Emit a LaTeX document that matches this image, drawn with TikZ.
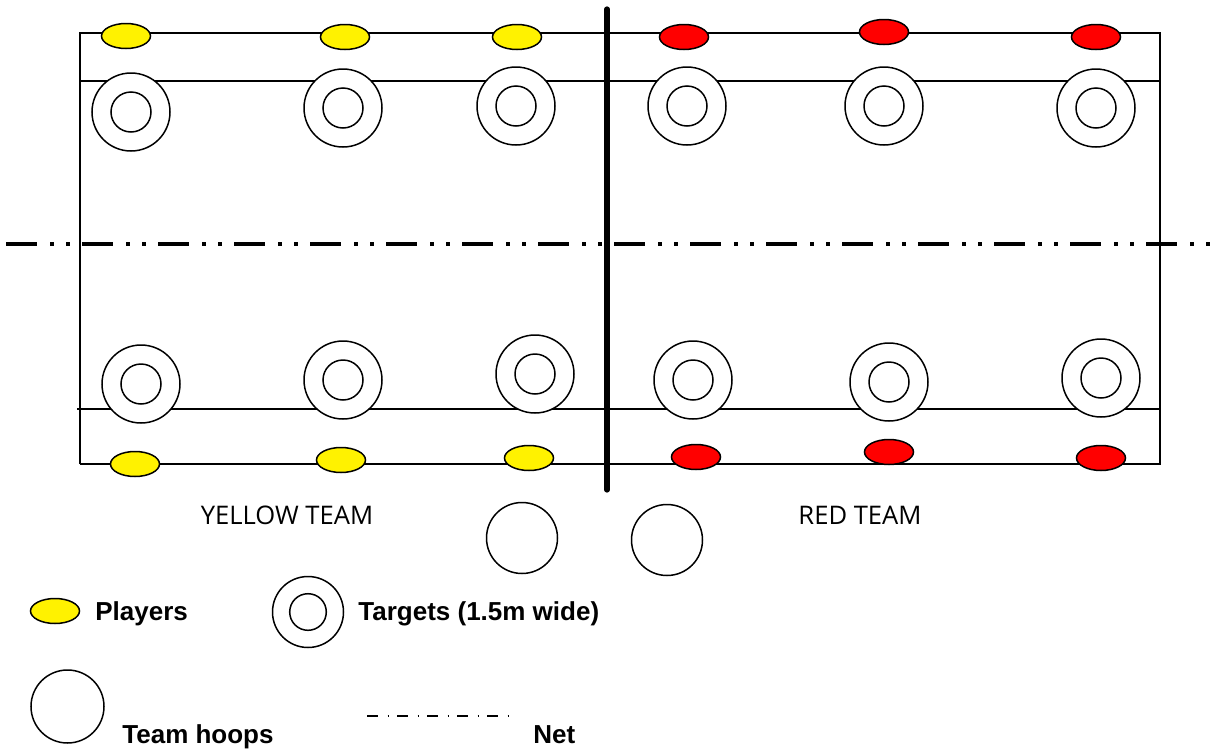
\documentclass[tikz,border=0pt]{standalone}
\usepackage{fontspec}
\setmainfont{Liberation Sans}
\newfontfamily\teamfont{Open Sans}
\usetikzlibrary{shapes.geometric}
\tikzset{
  x=0.5pt, y=-0.5pt,
  thinline/.style={line width=0.75pt, black},
  player/.style={ellipse, draw, line width=0.75pt, minimum width=24.5pt, minimum height=12.5pt, inner sep=0pt},
  yplayer/.style={player, fill=yellow},
  rplayer/.style={player, fill=red},
  outerT/.style={circle, draw, line width=0.75pt, fill=white, minimum size=39pt, inner sep=0pt},
  innerT/.style={circle, draw, line width=0.75pt, minimum size=20pt, inner sep=0pt},
  hoop/.style={circle, draw, line width=0.75pt, fill=white, minimum size=35.5pt, inner sep=0pt},
  teamlabel/.style={font=\teamfont\fontsize{12.8pt}{14pt}\selectfont, inner sep=0pt, anchor=base},
  legendlabel/.style={font=\bfseries\fontsize{13pt}{15pt}\selectfont, anchor=base west, inner sep=0pt},
  netline/.style={line width=2.6pt, line cap=round},
  centreline/.style={line width=2pt, dash pattern=on 15.5pt off 6.5pt on 2pt off 6pt on 2pt off 6pt},
  legendnet/.style={line width=0.6pt, dash pattern=on 5.5pt off 4.75pt on 0.75pt off 4pt}
}
\newcommand\tgt[3]{\node[outerT] (#1) at (#2,#3) {}; \node[innerT] (#1i) at (#1) {};}
\begin{document}
\begin{tikzpicture}
\useasboundingbox (0,0) rectangle (1222,750);
% court lines
\draw[thinline] (80,464) -- (80,33) -- (1160,33) -- (1160,464) -- (80,464);
\draw[thinline] (80,81) -- (1160,81);
\draw[thinline] (77,409) -- (1160,409);
% centre line
\draw[centreline] (6,244) -- (1216,244);
% targets top
\tgt{tA}{131}{112}
\tgt{tB}{343}{108}
\tgt{tC}{516}{106}
\tgt{tD}{687}{106}
\tgt{tE}{884}{106}
\tgt{tF}{1096}{108}
% targets bottom
\tgt{bA}{141}{384}
\tgt{bB}{343}{380}
\tgt{bC}{535}{374}
\tgt{bD}{693}{380}
\tgt{bE}{889}{382}
\tgt{bF}{1101}{378}
% players top
\node[yplayer] (py1) at (126,36) {};
\node[yplayer] (py2) at (345,37) {};
\node[yplayer] (py3) at (517,37) {};
\node[rplayer] (pr1) at (684,37) {};
\node[rplayer] (pr2) at (884,32) {};
\node[rplayer] (pr3) at (1096,37) {};
% players bottom
\node[yplayer] (qy1) at (135,464) {};
\node[yplayer] (qy2) at (341,460) {};
\node[yplayer] (qy3) at (529,458) {};
\node[rplayer] (qr1) at (696,457) {};
\node[rplayer] (qr2) at (889,452) {};
\node[rplayer] (qr3) at (1101,458) {};
% net
\draw[netline] (607,9) -- (607,490);
% team hoops
\node[hoop] (h1) at (522,538) {};
\node[hoop] (h2) at (667,540) {};
% team labels
\node[teamlabel] (yl) at (287,524) {YELLOW TEAM};
\node[teamlabel] (rl) at (860,524) {RED TEAM};
% legend
\node[yplayer] (lp) at (55,611) {};
\node[legendlabel] (lpt) at (95,620) {Players};
\node[circle, draw, line width=0.75pt, minimum size=35.5pt, inner sep=0pt] (lt) at (308,612) {};
\node[circle, draw, line width=0.75pt, minimum size=18.3pt, inner sep=0pt] (lti) at (lt) {};
\node[legendlabel] (ltt) at (358,620) {Targets (1.5m wide)};
\node[circle, draw, line width=0.75pt, minimum size=36.5pt, inner sep=0pt] (lh) at (67.5,706.5) {};
\node[legendlabel] (lht) at (122,743) {Team hoops};
\coordinate (ln1) at (367,716);
\coordinate (ln2) at (511,716);
\draw[legendnet] (ln1) -- (ln2);
\node[legendlabel] (lnt) at (533,743) {Net};
\end{tikzpicture}
\end{document}
